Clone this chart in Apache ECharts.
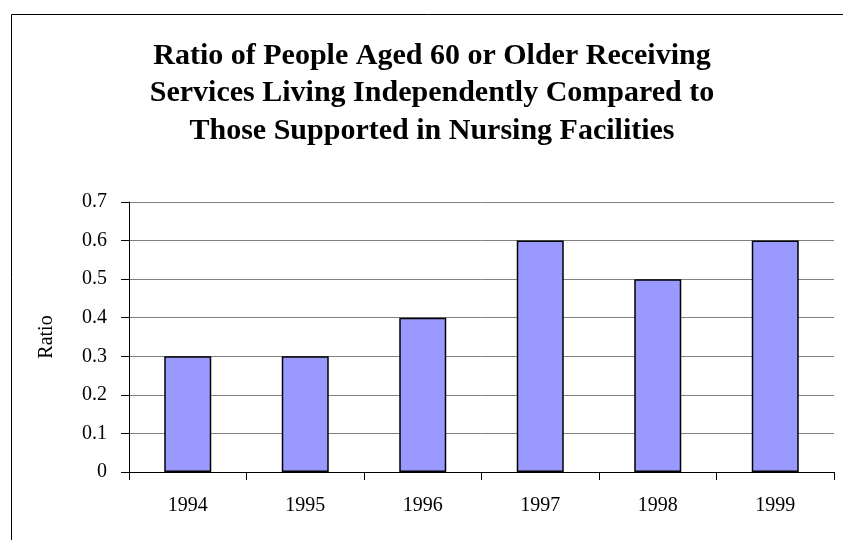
<!DOCTYPE html>
<html>
<head>
<meta charset="utf-8">
<script src="https://cdn.jsdelivr.net/npm/echarts@6/dist/echarts.min.js"></script>
<style>html,body{margin:0;padding:0;background:#fff;}#c{width:843px;height:540px;}</style>
</head>
<body>
<div id="c"></div>
<script>
var categories = ['1994', '1995', '1996', '1997', '1998', '1999'];
var ratioValues = [0.3, 0.3, 0.4, 0.6, 0.5, 0.6];
var titleLines = ['Ratio of People Aged 60 or Older Receiving', 'Services Living Independently Compared to', 'Those Supported in Nursing Facilities'];

var chart = echarts.init(document.getElementById('c'));
var serif = '"Liberation Serif", "Times New Roman", serif';
chart.setOption({
  backgroundColor: '#fff',
  animation: false,
  graphic: [{
    type: 'rect', left: 9, top: 12, silent: true,
    shape: { width: 900, height: 600 },
    style: { fill: 'none', stroke: '#000', lineWidth: 1 }
  }],
  title: {
    text: titleLines.join('\n'),
    left: 427, top: 32, textAlign: 'center',
    textStyle: { fontFamily: serif, fontWeight: 'bold', fontSize: 30, lineHeight: 37.5, color: '#000' }
  },
  grid: { left: 129, right: 9, top: 202, bottom: 68 },
  xAxis: {
    type: 'category', data: categories,
    axisLine: { lineStyle: { color: '#000', width: 1 } },
    axisTick: { show: true, length: 8, interval: 0, lineStyle: { color: '#000' } },
    axisLabel: { fontFamily: serif, fontSize: 20, color: '#000', margin: 24 }
  },
  yAxis: {
    type: 'value', min: 0, max: 0.7, interval: 0.1,
    name: 'Ratio', nameLocation: 'middle', nameGap: 72, nameRotate: 90,
    nameTextStyle: { fontFamily: serif, fontSize: 20, color: '#000' },
    axisLine: { show: true, lineStyle: { color: '#000', width: 1 } },
    axisTick: { show: true, length: 8, lineStyle: { color: '#000' } },
    axisLabel: { fontFamily: serif, fontSize: 20, color: '#000', margin: 22,
      formatter: function (v) { return String(Math.round(v * 10) / 10); } },
    splitLine: { show: true, lineStyle: { color: '#808080', width: 1 } }
  },
  series: [{
    type: 'bar', data: ratioValues, barWidth: '40%',
    itemStyle: { color: '#9999FF', borderColor: '#000', borderWidth: 1.5 }
  }]
});
</script>
</body>
</html>
